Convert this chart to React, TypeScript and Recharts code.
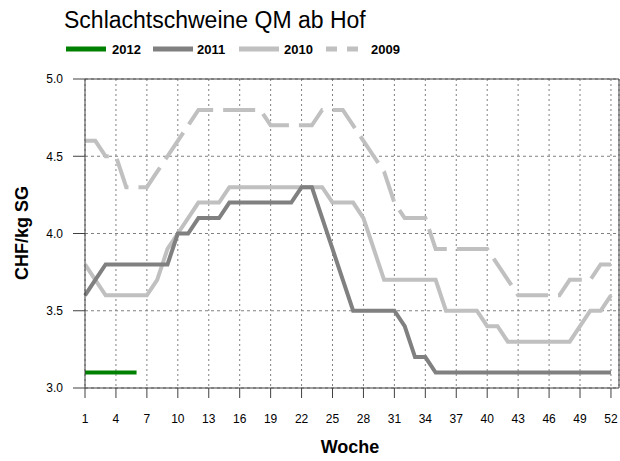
// Schlachtschweine QM ab Hof – weekly price lines per year
import React from "react";
import {
  LineChart,
  Line,
  XAxis,
  YAxis,
  CartesianGrid,
  ReferenceLine,
} from "recharts";

const weeks = Array.from({ length: 52 }, (_, i) => i + 1);

const y2012 = [3.1, 3.1, 3.1, 3.1, 3.1, 3.1];

const y2011 = [
  3.6, 3.7, 3.8, 3.8, 3.8, 3.8, 3.8, 3.8, 3.8, 4.0,
  4.0, 4.1, 4.1, 4.1, 4.2, 4.2, 4.2, 4.2, 4.2, 4.2,
  4.2, 4.3, 4.3, 4.1, 3.9, 3.7, 3.5, 3.5, 3.5, 3.5,
  3.5, 3.4, 3.2, 3.2, 3.1, 3.1, 3.1, 3.1, 3.1, 3.1,
  3.1, 3.1, 3.1, 3.1, 3.1, 3.1, 3.1, 3.1, 3.1, 3.1,
  3.1, 3.1,
];

const y2010 = [
  3.8, 3.7, 3.6, 3.6, 3.6, 3.6, 3.6, 3.7, 3.9, 4.0,
  4.1, 4.2, 4.2, 4.2, 4.3, 4.3, 4.3, 4.3, 4.3, 4.3,
  4.3, 4.3, 4.3, 4.3, 4.2, 4.2, 4.2, 4.1, 3.9, 3.7,
  3.7, 3.7, 3.7, 3.7, 3.7, 3.5, 3.5, 3.5, 3.5, 3.4,
  3.4, 3.3, 3.3, 3.3, 3.3, 3.3, 3.3, 3.3, 3.4, 3.5,
  3.5, 3.6,
];

const y2009 = [
  4.6, 4.6, 4.5, 4.5, 4.3, 4.3, 4.3, 4.4, 4.5, 4.6,
  4.7, 4.8, 4.8, 4.8, 4.8, 4.8, 4.8, 4.8, 4.7, 4.7,
  4.7, 4.7, 4.7, 4.8, 4.8, 4.8, 4.7, 4.6, 4.5, 4.4,
  4.2, 4.1, 4.1, 4.1, 3.9, 3.9, 3.9, 3.9, 3.9, 3.9,
  3.8, 3.7, 3.6, 3.6, 3.6, 3.6, 3.6, 3.7, 3.7, 3.7,
  3.8, 3.8,
];

const xTicks = [1, 4, 7, 10, 13, 16, 19, 22, 25, 28, 31, 34, 37, 40, 43, 46, 49, 52];
const yTicks = [3.0, 3.5, 4.0, 4.5, 5.0];

const series = [
  { key: "y2012", label: "2012", color: "#008000", dash: undefined },
  { key: "y2011", label: "2011", color: "#808080", dash: undefined },
  { key: "y2010", label: "2010", color: "#c0c0c0", dash: undefined },
  { key: "y2009", label: "2009", color: "#c0c0c0", dash: "32 10" },
];

const data = weeks.map((w, i) => ({
  week: w,
  y2012: i < y2012.length ? y2012[i] : null,
  y2011: y2011[i],
  y2010: y2010[i],
  y2009: y2009[i],
}));

const font = "'Liberation Sans', Arial, sans-serif";
const axisColor = "#404040";
const xMax = 52.78;

export default function App() {
  return (
    <div style={{ position: "absolute", left: 0, top: 0, width: 620, height: 461, fontFamily: font }}>
      <div style={{ position: "absolute", left: 64, top: 7, fontSize: 23, color: "#000", whiteSpace: "nowrap" }}>
        Schlachtschweine QM ab Hof
      </div>
      {/* legend */}
      <svg style={{ position: "absolute", left: 0, top: 38 }} width={420} height={22}>
        <line x1={66} x2={106} y1={11} y2={11} stroke="#008000" strokeWidth={5} />
        <text x={112} y={16} fontSize={13} fontWeight="bold" fontFamily={font}>2012</text>
        <line x1={153} x2={193} y1={11} y2={11} stroke="#808080" strokeWidth={5} />
        <text x={197} y={16} fontSize={13} fontWeight="bold" fontFamily={font}>2011</text>
        <line x1={239} x2={279} y1={11} y2={11} stroke="#c0c0c0" strokeWidth={5} />
        <text x={284} y={16} fontSize={13} fontWeight="bold" fontFamily={font}>2010</text>
        <line x1={326} x2={358} y1={11} y2={11} stroke="#c0c0c0" strokeWidth={5} strokeDasharray="11 10" />
        <text x={371} y={16} fontSize={13} fontWeight="bold" fontFamily={font}>2009</text>
      </svg>
      <div
        style={{
          position: "absolute",
          left: 22,
          top: 233,
          transform: "translate(-50%, -50%) rotate(-90deg)",
          fontSize: 18,
          fontWeight: "bold",
          whiteSpace: "nowrap",
        }}
      >
        CHF/kg SG
      </div>
      <div
        style={{
          position: "absolute",
          left: 350,
          top: 447,
          transform: "translate(-50%, -50%)",
          fontSize: 18,
          fontWeight: "bold",
        }}
      >
        Woche
      </div>
      <LineChart
        width={620}
        height={461}
        data={data}
        margin={{ top: 79, right: 1, bottom: 43, left: 25 }}
      >
        <CartesianGrid horizontal={false} stroke="#808080" strokeDasharray="2 3" />
        <CartesianGrid vertical={false} stroke="#808080" strokeDasharray="3 3" />
        <XAxis
          dataKey="week"
          type="number"
          domain={[1, xMax]}
          ticks={xTicks}
          interval={0}
          height={30}
          tickSize={10}
          tickMargin={16}
          stroke={axisColor}
          tick={{ fontSize: 12, fill: "#000", fontFamily: font }}
        />
        <YAxis
          type="number"
          domain={[3, 5]}
          ticks={yTicks}
          width={60}
          tickSize={12}
          tickMargin={10}
          stroke={axisColor}
          tickFormatter={(v: number) => v.toFixed(1)}
          tick={{ fontSize: 12, fill: "#000", fontFamily: font }}
        />
        <ReferenceLine y={5} stroke={axisColor} />
        <ReferenceLine x={xMax} stroke={axisColor} />
        {series
          .slice()
          .reverse()
          .map((s) => (
            <Line
              key={s.key}
              dataKey={s.key}
              type="linear"
              stroke={s.color}
              strokeWidth={4}
              strokeDasharray={s.dash}
              dot={false}
              activeDot={false}
              isAnimationActive={false}
            />
          ))}
      </LineChart>
    </div>
  );
}
